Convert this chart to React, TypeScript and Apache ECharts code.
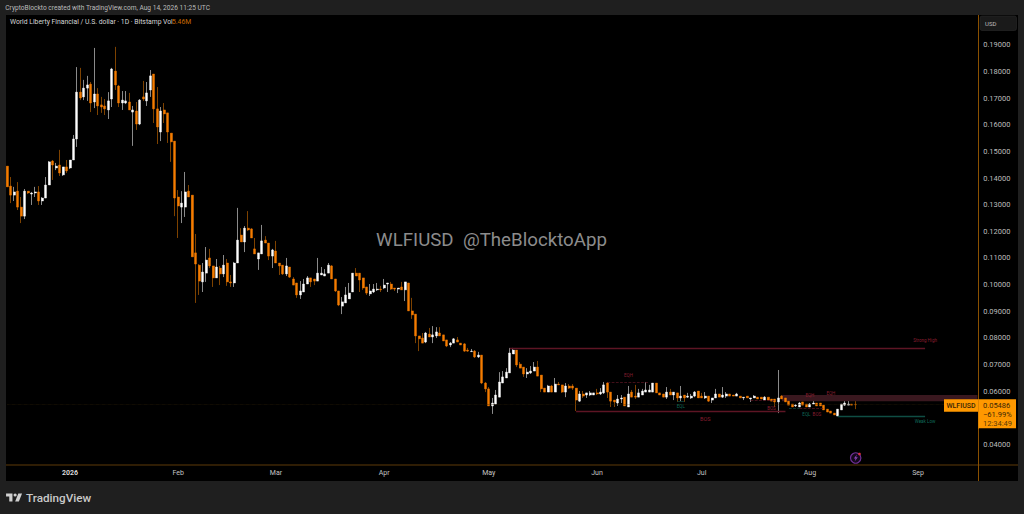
import React, { useEffect, useRef } from "react";
import * as echarts from "echarts";

// Daily candles from 14 Dec 2025: [open, close, low, high]
const ohlc: number[][] = [
  [.1445,.1367,.1367,.1445],[.1370,.1336,.1306,.1404],[.1336,.1348,.1314,.1367],[.1351,.1291,.1280,.1385],
  [.1291,.1257,.1231,.1329],[.1257,.1351,.1246,.1359],[.1351,.1344,.1340,.1351],[.1340,.1344,.1299,.1348],
  [.1344,.1348,.1329,.1367],[.1348,.1314,.1299,.1370],[.1314,.1325,.1299,.1329],[.1325,.1374,.1325,.1404],
  [.1374,.1461,.1374,.1464],[.1464,.1449,.1393,.1468],[.1438,.1445,.1430,.1457],[.1449,.1419,.1408,.1506],
  [.1412,.1442,.1408,.1442],[.1442,.1427,.1419,.1468],[.1438,.1468,.1434,.1468],[.1468,.1547,.1468,.1562],
  [.1547,.1723,.1517,.1817],[.1723,.1701,.1693,.1814],[.1705,.1738,.1693,.1769],[.1738,.1750,.1690,.1784],
  [.1753,.1682,.1648,.1761],[.1686,.1716,.1663,.1889],[.1716,.1671,.1637,.1738],[.1675,.1667,.1645,.1705],
  [.1671,.1660,.1637,.1697],[.1656,.1690,.1622,.1723],[.1697,.1810,.1667,.1814],[.1802,.1750,.1731,.1893],
  [.1746,.1682,.1667,.1750],[.1682,.1693,.1656,.1727],[.1682,.1690,.1678,.1727],[.1686,.1656,.1656,.1720],
  [.1648,.1656,.1521,.1671],[.1652,.1603,.1581,.1686],[.1603,.1693,.1599,.1697],[.1705,.1697,.1690,.1765],
  [.1690,.1720,.1671,.1761],[.1731,.1784,.1705,.1806],[.1791,.1660,.1607,.1791],[.1660,.1592,.1528,.1742],
  [.1573,.1652,.1539,.1667],[.1656,.1641,.1607,.1682],[.1645,.1573,.1532,.1645],[.1569,.1536,.1461,.1569],
  [.1539,.1325,.1257,.1539],[.1329,.1295,.1175,.1355],[.1291,.1306,.1231,.1351],[.1291,.1348,.1254,.1423],
  [.1351,.1329,.1329,.1374],[.1336,.1104,.1104,.1336],[.1119,.1077,.0931,.1190],[.1073,.1013,.0961,.1077],
  [.1010,.1047,.0972,.1081],[.1043,.1092,.1010,.1141],[.1100,.1070,.1062,.1134],[.1070,.1025,.0991,.1070],
  [.1025,.1066,.1025,.1096],[.1062,.1040,.0998,.1070],[.1040,.1073,.1028,.1111],[.1081,.1010,.0995,.1096],
  [.1010,.1006,.0991,.1036],[.1006,.1081,.0991,.1085],[.1081,.1167,.1081,.1288],[.1186,.1160,.1160,.1212],
  [.1160,.1212,.1122,.1220],[.1212,.1205,.1201,.1276],[.1209,.1175,.1175,.1212],[.1134,.1115,.1115,.1175],
  [.1096,.1119,.1055,.1119],[.1115,.1164,.1115,.1224],[.1167,.1156,.1156,.1182],[.1156,.1107,.1092,.1156],
  [.1107,.1130,.1062,.1134],[.1126,.1081,.1081,.1164],[.1081,.1070,.1036,.1081],[.1073,.1040,.1036,.1073],
  [.1040,.1070,.1032,.1100],[.1066,.1028,.1025,.1066],[.1021,.0998,.0998,.1028],[.1006,.0961,.0950,.1006],
  [.0961,.0976,.0946,.1013],[.0972,.1002,.0972,.1021],[.1002,.1025,.1002,.1032],[.1025,.1010,.0991,.1025],
  [.1021,.1013,.0998,.1021],[.1013,.1043,.1013,.1100],[.1036,.1043,.1036,.1066],[.1032,.1040,.1032,.1058],
  [.1043,.1073,.1043,.1081],[.1070,.1021,.1021,.1073],[.1021,.0976,.0972,.1021],[.0976,.0923,.0919,.0976],
  [.0919,.0935,.0889,.0953],[.0931,.0961,.0931,.0991],[.0946,.0968,.0946,.1006],[.0972,.1043,.0972,.1043],
  [.1043,.1032,.1032,.1062],[.1043,.1017,.0972,.1043],[.1025,.0987,.0980,.1025],[.0991,.0968,.0961,.0991],
  [.0965,.0976,.0957,.1002],[.0972,.0983,.0968,.1002],[.0980,.0983,.0976,.1006],[.0983,.0980,.0972,.0995],
  [.0987,.0998,.0983,.1021],[.1002,.1006,.0972,.1006],[.1002,.0983,.0980,.1010],[.0987,.0983,.0976,.0987],
  [.0983,.0987,.0968,.0987],[.0991,.0980,.0980,.1010],[.0980,.1010,.0938,.1010],[.1006,.0901,.0901,.1006],
  [.0901,.0886,.0871,.0950],[.0889,.0807,.0780,.0889],[.0807,.0796,.0750,.0807],[.0799,.0780,.0780,.0818],
  [.0784,.0818,.0780,.0822],[.0814,.0803,.0803,.0837],[.0803,.0811,.0780,.0844],[.0807,.0822,.0799,.0840],
  [.0818,.0807,.0807,.0840],[.0811,.0788,.0788,.0811],[.0792,.0769,.0765,.0792],[.0773,.0780,.0765,.0784],
  [.0780,.0796,.0780,.0799],[.0792,.0784,.0784,.0803],[.0780,.0773,.0773,.0780],[.0777,.0750,.0747,.0780],
  [.0754,.0750,.0747,.0762],[.0748,.0750,.0747,.0758],[.0750,.0728,.0724,.0754],[.0728,.0735,.0724,.0747],
  [.0735,.0630,.0626,.0735],[.0630,.0608,.0596,.0634],[.0608,.0544,.0544,.0615],[.0544,.0555,.0514,.0574],
  [.0551,.0585,.0551,.0604],[.0577,.0634,.0577,.0671],[.0630,.0653,.0630,.0675],[.0649,.0671,.0649,.0686],
  [.0668,.0743,.0668,.0762],[.0739,.0754,.0739,.0762],[.0754,.0698,.0690,.0754],[.0701,.0686,.0686,.0709],
  [.0690,.0664,.0653,.0690],[.0664,.0671,.0649,.0686],[.0668,.0675,.0664,.0694],[.0675,.0690,.0675,.0709],
  [.0690,.0656,.0656,.0713],[.0660,.0608,.0596,.0660],[.0611,.0596,.0596,.0611],[.0596,.0619,.0596,.0623],
  [.0619,.0596,.0596,.0623],[.0596,.0626,.0596,.0649],[.0626,.0623,.0623,.0634],[.0623,.0596,.0593,.0623],
  [.0596,.0619,.0577,.0630],[.0619,.0611,.0608,.0626],[.0619,.0611,.0604,.0626],[.0611,.0566,.0525,.0611],
  [.0562,.0589,.0559,.0600],[.0589,.0581,.0574,.0600],[.0585,.0593,.0574,.0593],[.0585,.0593,.0581,.0600],
  [.0585,.0593,.0585,.0593],[.0593,.0589,.0585,.0608],[.0589,.0596,.0585,.0611],[.0593,.0623,.0589,.0634],
  [.0630,.0596,.0574,.0634],[.0596,.0562,.0540,.0596],[.0566,.0559,.0540,.0566],[.0555,.0570,.0544,.0585],
  [.0570,.0574,.0555,.0585],[.0577,.0544,.0544,.0577],[.0540,.0589,.0540,.0619],[.0596,.0577,.0577,.0604],
  [.0581,.0577,.0570,.0623],[.0577,.0593,.0577,.0608],[.0585,.0600,.0585,.0608],[.0596,.0604,.0596,.0634],
  [.0596,.0604,.0596,.0623],[.0596,.0630,.0596,.0630],[.0630,.0593,.0593,.0630],[.0593,.0585,.0585,.0593],
  [.0589,.0577,.0577,.0589],[.0577,.0596,.0570,.0615],[.0596,.0585,.0585,.0608],[.0585,.0596,.0566,.0596],
  [.0593,.0574,.0559,.0593],[.0574,.0581,.0562,.0619],[.0585,.0574,.0559,.0585],[.0577,.0581,.0574,.0593],
  [.0574,.0581,.0570,.0589],[.0581,.0596,.0577,.0600],[.0600,.0574,.0574,.0600],[.0581,.0574,.0574,.0593],
  [.0574,.0581,.0570,.0596],[.0581,.0562,.0559,.0581],[.0566,.0574,.0555,.0574],[.0574,.0589,.0574,.0608],
  [.0589,.0577,.0577,.0589],[.0577,.0585,.0574,.0615],[.0581,.0589,.0574,.0596],[.0589,.0581,.0581,.0589],
  [.0585,.0581,.0581,.0585],[.0581,.0589,.0581,.0593],[.0581,.0574,.0574,.0581],[.0574,.0577,.0566,.0577],
  [.0581,.0574,.0574,.0581],[.0570,.0574,.0559,.0574],[.0574,.0581,.0574,.0585],[.0577,.0570,.0570,.0577],
  [.0577,.0570,.0570,.0577],[.0566,.0577,.0566,.0581],[.0577,.0566,.0566,.0577],[.0570,.0562,.0562,.0570],
  [.0570,.0559,.0540,.0570],[.0559,.0574,.0517,.0679],[.0581,.0570,.0570,.0585],[.0574,.0559,.0559,.0574],
  [.0562,.0547,.0547,.0562],[.0551,.0540,.0540,.0551],[.0544,.0547,.0540,.0551],[.0540,.0555,.0540,.0559],
  [.0559,.0547,.0547,.0559],[.0551,.0540,.0540,.0551],[.0540,.0551,.0540,.0555],[.0551,.0555,.0551,.0562],
  [.0555,.0544,.0544,.0555],[.0555,.0544,.0544,.0555],[.0547,.0529,.0529,.0547],[.0532,.0521,.0521,.0532],
  [.0525,.0517,.0517,.0525],[.0517,.0510,.0510,.0517],[.0506,.0532,.0506,.0532],[.0529,.0551,.0529,.0551],
  [.0547,.0555,.0544,.0562],[.0547,.0551,.0547,.0562],[.0551,.0547,.0547,.0551],[.0550,.05486,.0532,.0562],
];

const CATEGORY_COUNT = 279;
const monthTickIndex = [18, 49, 77, 108, 138, 169, 199, 230, 261];
const monthTickLabels = ["2026", "Feb", "Mar", "Apr", "May", "Jun", "Jul", "Aug", "Sep"];
// 0.03 and 0.20 lie outside the visible scale; 0.05 sits behind the price tag.
const priceTicksHidden = [0.03, 0.05, 0.2];
const lastPrice = 0.05486;

const RED = "#5e1524";
const GREEN = "#0f4d43";
const TEXT_RED = "#8a1f30";
const TEXT_GREEN = "#0f6a58";

// [from index, to index, price, colour, line type, width]
const levels: [number, number, number, string, string, number][] = [
  [144, 263, 0.0762, RED, "solid", 1.4],
  [163, 223, 0.0525, RED, "solid", 1.4],
  [238, 263, 0.0507, GREEN, "solid", 1.4],
  [172, 184, 0.0634, RED, "dashed", 0.7],
  [213, 220, 0.0566, RED, "dashed", 0.7],
  [192, 194, 0.0562, GREEN, "solid", 0.7],
  [227, 234, 0.0536, RED, "dashed", 0.7],
  [224, 227, 0.0536, GREEN, "dashed", 0.7],
  [0, 278, lastPrice, "#2e2008", "dotted", 0.6],
];
// supply zone: [from index, to index, top price, bottom price]
const zone = [222, 278, 0.0585, 0.0562];
// [text, index, price, colour, size]
const notes: [string, number, number, string, number][] = [
  ["BOS", 200, 0.0495, TEXT_RED, 5.5],
  ["EQH", 178, 0.0657, TEXT_RED, 4.5],
  ["EQL", 193, 0.0540, TEXT_GREEN, 4.5],
  ["BOS", 219, 0.0536, TEXT_RED, 4.5],
  ["EQL", 229, 0.0510, TEXT_GREEN, 4.5],
  ["BOS", 232, 0.0510, TEXT_RED, 4.5],
  ["EQH", 230, 0.0585, TEXT_RED, 4.5],
  ["EQH", 236, 0.0589, TEXT_RED, 4.5],
  ["Strong High", 263, 0.0788, TEXT_RED, 4.5],
  ["Weak Low", 263, 0.0484, TEXT_GREEN, 4.5],
];

const headerText = "CryptoBlockto created with TradingView.com, Aug 14, 2026 11:25 UTC";
const titleText = "World Liberty Financial / U.S. dollar · 1D · Bitstamp";
const volLabel = "Vol";
const volValue = "5.46M";
const watermark = "WLFIUSD  @TheBlocktoApp";
const symbolName = "WLFIUSD";
const tagLines = ["0.05486", "−61.99%", "12:34:49"];

const WHITE = "#ffffff";
const ORANGE = "#f57c00";
const WICK_WHITE = "#8a8a8a";
const WICK_ORANGE = "#7e4200";
const TAG = "#ff9800";
const AXIS_LINE = "#8a5000";
const FONT = "Roboto, sans-serif";

echarts.graphic.registerShape(
  "tvLogoMark",
  echarts.graphic.extendPath("M14 6H2v6h6v9h6V6Zm12 15h-7l6-15h7l-6 15Zm-7-9a3 3 0 1 0 0-6 3 3 0 0 0 0 6Z", {})
);

export default function App() {
  const ref = useRef<HTMLDivElement>(null);

  useEffect(() => {
    const chart = echarts.init(ref.current!, null, { renderer: "svg" });
    const categories = Array.from({ length: CATEGORY_COUNT }, (_, i) =>
      new Date(Date.UTC(2025, 11, 14 + i)).toISOString().slice(0, 10)
    );
    const padded = (rows: number[][]) =>
      categories.map((_, i) => rows[i] ?? ["-", "-", "-", "-"]);
    const bodies = ohlc.map(([o, c]) => [o, c, Math.min(o, c), Math.max(o, c)]);

    const text = (
      str: string, x: number, y: number, size: number, fill: string,
      align = "left", weight: number | string = 400, z = 300
    ) => ({
      type: "text", x, y, z, silent: true,
      style: { text: str, fill, fontSize: size, fontFamily: FONT, fontWeight: weight, align, verticalAlign: "middle" },
    });

    chart.setOption({
      animation: false,
      backgroundColor: "#1f1f1f",
      grid: { left: 5.45, top: 18.38, width: 973.71, height: 452.5, containLabel: false },
      xAxis: {
        type: "category",
        data: categories,
        boundaryGap: true,
        axisLine: { show: false },
        axisTick: { show: false },
        splitLine: { show: false },
        axisLabel: {
          color: "#c4c4c4",
          fontSize: 7,
          fontFamily: FONT,
          margin: 2,
          verticalAlign: "middle",
          interval: (i: number) => monthTickIndex.includes(i),
          formatter: (_: string, i: number) => {
            const k = monthTickIndex.indexOf(i);
            if (k < 0) return "";
            return k === 0 ? `{b|${monthTickLabels[k]}}` : monthTickLabels[k];
          },
          rich: { b: { fontWeight: 700, color: "#d8d8d8", fontSize: 7, fontFamily: FONT } },
        },
      },
      yAxis: {
        type: "value",
        position: "right",
        min: 0.03,
        max: 0.2,
        interval: 0.01,
        axisLine: { show: false },
        axisTick: { show: false },
        splitLine: { show: false },
        axisLabel: {
          color: "#bdbdbd",
          fontSize: 7.5,
          fontFamily: FONT,
          margin: 4,
          formatter: (v: number) =>
            priceTicksHidden.some((h) => Math.abs(h - v) < 1e-6) ? "" : v.toFixed(5),
        },
      },
      series: [
        {
          name: "Wicks",
          type: "candlestick",
          data: padded(ohlc),
          barWidth: 1,
          z: 3,
          itemStyle: {
            color: WICK_WHITE, color0: WICK_ORANGE,
            borderColor: WICK_WHITE, borderColor0: WICK_ORANGE, borderWidth: 1,
          },
          markArea: {
            silent: true,
            itemStyle: { color: "#3a181f" },
            data: [[{ coord: [zone[0], zone[2]] }, { coord: [zone[1], zone[3]] }]],
          },
          markLine: {
            silent: true,
            symbol: ["none", "none"],
            label: { show: false },
            data: levels.map(([a, b, p, color, type, width]) => [
              { coord: [a, p], lineStyle: { color, type, width } },
              { coord: [b, p] },
            ]),
          },
          markPoint: {
            silent: true,
            symbol: "circle",
            symbolSize: 0,
            data: notes.map(([t, i, p, color, size]) => ({
              coord: [i, p],
              label: { show: true, position: "inside", formatter: t, color, fontSize: size, fontFamily: FONT },
            })),
          },
        },
        {
          name: "WLFIUSD",
          type: "candlestick",
          data: padded(bodies),
          barWidth: 2.5,
          z: 4,
          itemStyle: {
            color: WHITE, color0: ORANGE,
            borderColor: WHITE, borderColor0: ORANGE, borderWidth: 0.4,
          },
        },
      ],
      graphic: [
        { type: "rect", z: -1, silent: true, shape: { x: 6, y: 15, width: 1012, height: 466 }, style: { fill: "#000000" } },
        { type: "line", z: 10, silent: true, shape: { x1: 6, y1: 465, x2: 1018, y2: 465 }, style: { stroke: "#5e3a08", lineWidth: 1 } },
        { type: "line", z: 10, silent: true, shape: { x1: 978.5, y1: 15, x2: 978.5, y2: 481 }, style: { stroke: AXIS_LINE, lineWidth: 1 } },
        text(headerText, 5.3, 8, 6.6, "#bcbcbc"),
        text(titleText, 10, 22.3, 6.8, "#d6d6d6"),
        text(volLabel, 163, 22.3, 6.8, "#d6d6d6"),
        text(volValue, 172, 22.3, 6.8, "#c96a00"),
        text(watermark, 491.5, 240, 18.7, "#8c8c8c", "center", 400, 1),
        { type: "rect", z: 20, silent: true, shape: { x: 980, y: 16, width: 36.5, height: 14.5, r: 2 }, style: { fill: "#1a1a1a", stroke: "#2a2a2a", lineWidth: 0.6 } },
        text("USD", 985, 23.5, 6, "#bdbdbd"),
        { type: "rect", z: 200, silent: true, shape: { x: 944, y: 399.3, width: 34, height: 12.4 }, style: { fill: TAG } },
        { type: "rect", z: 200, silent: true, shape: { x: 978, y: 399.3, width: 38, height: 29 }, style: { fill: TAG } },
        { type: "line", z: 201, silent: true, shape: { x1: 978.5, y1: 399, x2: 978.5, y2: 429 }, style: { stroke: "#c77700", lineWidth: 0.6 } },
        text(symbolName, 961, 405.5, 7, "#3a2606", "center", 500),
        text(tagLines[0], 983, 405.5, 7.5, "#3a2606"),
        text(tagLines[1], 983, 414.5, 7.5, "#3a2606"),
        text(tagLines[2], 983, 423.7, 7.5, "#5a3a08"),
        { type: "circle", z: 30, silent: true, shape: { cx: 855.7, cy: 458, r: 5.2 }, style: { fill: "#14081c", stroke: "#6f2f96", lineWidth: 1.2 } },
        { type: "polygon", z: 31, silent: true, shape: { points: [[857, 454.5], [853.8, 458.6], [855.6, 458.6], [854.6, 461.5], [857.8, 457.3], [856, 457.3]] }, style: { fill: "#8a45b8" } },
        { type: "circle", z: 32, silent: true, shape: { cx: 859.5, cy: 454, r: 1.3 }, style: { fill: "#e0303a" } },
        { type: "tvLogoMark", z: 30, silent: true, x: 5, y: 490.2, scaleX: 0.533, scaleY: 0.533, style: { fill: "#d0d0d0" } },
        text("TradingView", 26, 498.3, 11.7, "#c9c9c9", "left", 500),
      ],
    } as any);
    return () => chart.dispose();
  }, []);

  return (
    <div
      ref={ref}
      style={{ position: "absolute", left: 0, top: 0, width: 1024, height: 514 }}
    />
  );
}
